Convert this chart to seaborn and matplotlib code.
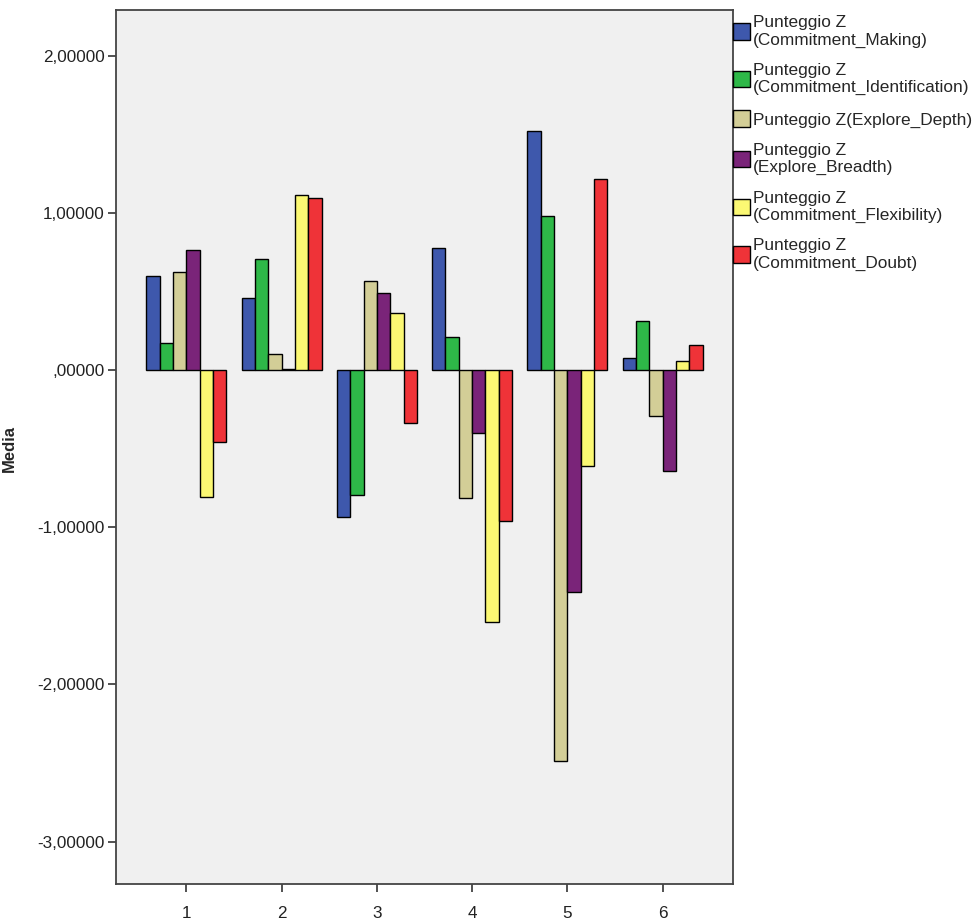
import matplotlib
matplotlib.use("Agg")
import matplotlib.pyplot as plt
import seaborn as sns
import pandas as pd
from matplotlib.ticker import FuncFormatter, FixedLocator

categories = ["1", "2", "3", "4", "5", "6"]
series_names = [
    "Punteggio Z\n(Commitment_Making)",
    "Punteggio Z\n(Commitment_Identification)",
    "Punteggio Z(Explore_Depth)",
    "Punteggio Z\n(Explore_Breadth)",
    "Punteggio Z\n(Commitment_Flexibility)",
    "Punteggio Z\n(Commitment_Doubt)",
]
commitment_making = [0.597, 0.455, -0.938, 0.777, 1.521, 0.075]
commitment_identification = [0.173, 0.709, -0.794, 0.212, 0.978, 0.314]
explore_depth = [0.624, 0.100, 0.569, -0.817, -2.486, -0.291]
explore_breadth = [0.762, 0.005, 0.491, -0.398, -1.412, -0.641]
commitment_flexibility = [-0.810, 1.111, 0.364, -1.604, -0.613, 0.056]
commitment_doubt = [-0.460, 1.094, -0.335, -0.959, 1.213, 0.157]
y_ticks = [-3, -2, -1, 0, 1, 2]
colors = ["#3E58AC", "#2EB848", "#D3CE97", "#7A2479", "#FBF873", "#EF3338"]

all_series = [commitment_making, commitment_identification, explore_depth,
              explore_breadth, commitment_flexibility, commitment_doubt]
rows = []
for name, vals in zip(series_names, all_series):
    for c, v in zip(categories, vals):
        rows.append({"group": c, "var": name, "value": v})
df = pd.DataFrame(rows)

sns.set_style("white")
plt.rcParams["font.family"] = ["Liberation Sans", "DejaVu Sans"]

fig = plt.figure(figsize=(9.78, 9.22), dpi=100)
ax = fig.add_axes([116 / 978, 1 - 884 / 922, (733 - 116) / 978, (884 - 10) / 922])
ax.set_facecolor("#F0F0F0")

sns.barplot(data=df, x="group", y="value", hue="var", order=categories,
            hue_order=series_names, palette=colors, saturation=1, width=0.84,
            edgecolor="black", linewidth=1.0, errorbar=None, ax=ax)

ax.set_xlim(-0.74, 5.74)
ax.set_ylim(-3.27, 2.29)
ax.yaxis.set_major_locator(FixedLocator(y_ticks))


def fmt(v, pos):
    s = f"{v:.5f}".replace(".", ",")
    if s.startswith("0,"):
        s = s[1:]
    return s


ax.yaxis.set_major_formatter(FuncFormatter(fmt))
ax.set_xlabel("")
ax.set_ylabel("")
ax.tick_params(axis="both", which="both", direction="out", length=6, width=1.2,
               color="#333333", labelsize=12.3, labelcolor="#222222", pad=2,
               left=True, bottom=True)
ax.tick_params(axis="x", pad=10)
for sp in ax.spines.values():
    sp.set_color("#444444")
    sp.set_linewidth(1.3)

handles, labels = ax.get_legend_handles_labels()
if ax.get_legend() is not None:
    ax.get_legend().remove()
leg = fig.legend(handles, labels, loc="upper left",
                 bbox_to_anchor=(733 / 978, 1 - 15 / 922), frameon=False,
                 fontsize=12.4, borderpad=0, borderaxespad=0, handlelength=1.0,
                 handleheight=1.1, handletextpad=0.15, labelspacing=0.88)

fig.text(17 / 978, 1 - 448 / 922, "Media", rotation=90, ha="right", va="center",
         fontsize=12, fontweight="bold")

fig.savefig("out.png", dpi=100, facecolor="white")
